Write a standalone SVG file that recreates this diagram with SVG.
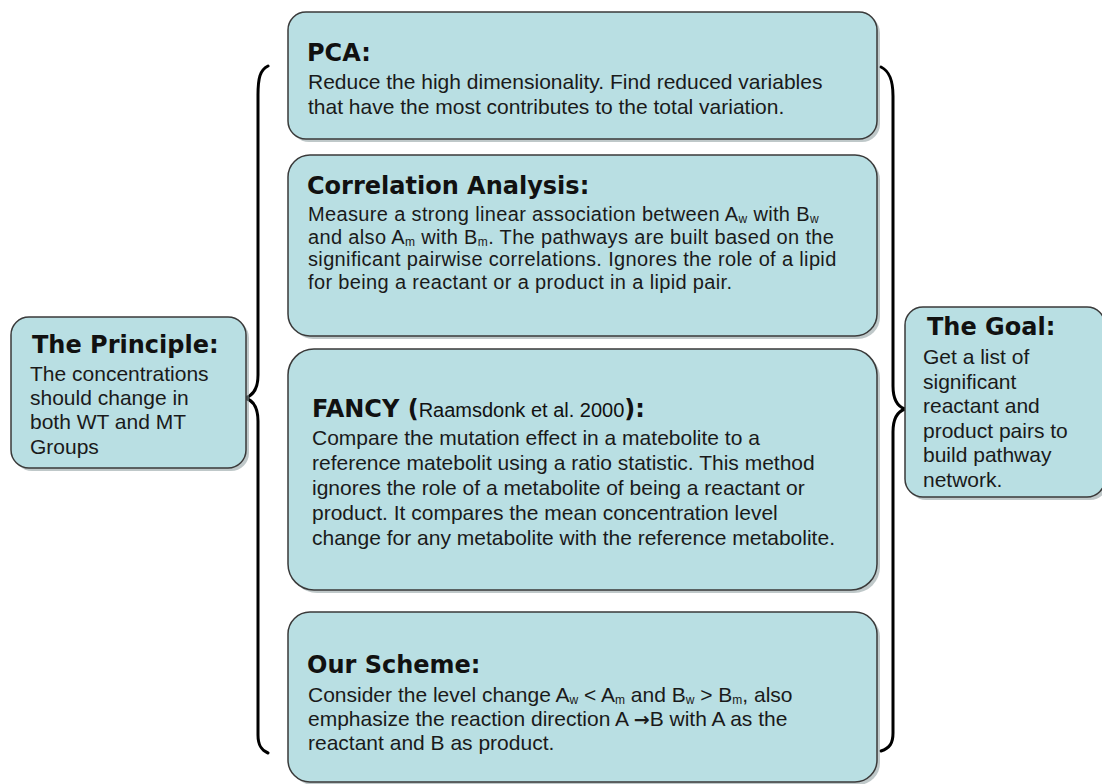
<svg xmlns="http://www.w3.org/2000/svg" width="1102" height="784" viewBox="0 0 1102 784">
  <style>
    .box { fill: #b9dfe3; stroke: #3a3a3a; stroke-width: 1.5; }
    .shadow { fill: #8a9a9c; opacity: 0.55; }
    .title { font-family: "DejaVu Sans", Verdana, sans-serif; font-weight: bold; font-size: 24px; fill: #111; }
    .body { font-family: "Liberation Sans", Arial, sans-serif; font-size: 21px; fill: #1a1a1a; }
    .tight { font-size: 20px; letter-spacing: 0.35px; }
    .side { font-family: "Liberation Sans", Arial, sans-serif; font-size: 21px; fill: #1a1a1a; }
    .cite { font-family: "Liberation Sans", Arial, sans-serif; font-weight: normal; font-size: 20px; }
    .arrow { font-family: "DejaVu Sans", sans-serif; font-weight: bold; font-size: 19px; }
    .sub { font-size: 12px; }
    .brace { fill: none; stroke: #000; stroke-width: 3; stroke-linecap: round; stroke-linejoin: round; }
  </style>

  <!-- braces grouping the method boxes -->
  <g id="connectors">
    <path class="brace" d="M268,66 C260,70 258,78 258,95 L258,375 C258,390 252,396 245,398 C252,400 258,406 258,421 L258,735 C258,745 261,750 268,753"/>
    <path class="brace" d="M881,67 C889,71 893,79 893,96 L893,386 C893,401 899,407 905,409 C899,411 893,417 893,432 L893,733 C893,743 890,748 881,751"/>
  </g>

  <!-- PCA -->
  <g id="pca">
    <rect class="shadow" x="291" y="15" width="589" height="127" rx="18"/>
    <rect class="box" x="288" y="12" width="589" height="127" rx="18"/>
    <text class="title" x="307" y="61">PCA:</text>
    <text class="body" x="308" y="89">Reduce the high dimensionality. Find reduced variables</text>
    <text class="body" x="308" y="114">that have the most contributes to the total variation.</text>
  </g>

  <!-- Correlation Analysis -->
  <g id="correlation">
    <rect class="shadow" x="291" y="158" width="589" height="181" rx="22"/>
    <rect class="box" x="288" y="155" width="589" height="181" rx="22"/>
    <text class="title" x="307" y="194">Correlation Analysis:</text>
    <text class="body tight" x="308" y="221">Measure a strong linear association between A<tspan class="sub" dy="2">w</tspan><tspan dy="-2"> with B</tspan><tspan class="sub" dy="2">w</tspan></text>
    <text class="body tight" x="308" y="243.5">and also A<tspan class="sub" dy="2">m</tspan><tspan dy="-2"> with B</tspan><tspan class="sub" dy="2">m</tspan><tspan dy="-2">. The pathways are built based on the</tspan></text>
    <text class="body tight" x="308" y="266">significant pairwise correlations. Ignores the role of a lipid</text>
    <text class="body tight" x="308" y="288.5">for being a reactant or a product in a lipid pair.</text>
  </g>

  <!-- FANCY -->
  <g id="fancy">
    <rect class="shadow" x="291" y="352" width="589" height="241" rx="26"/>
    <rect class="box" x="288" y="349" width="589" height="241" rx="26"/>
    <text class="title" x="312" y="417">FANCY (<tspan class="cite">Raamsdonk et al. 2000</tspan>):</text>
    <text class="body" x="312" y="445">Compare the mutation effect in a matebolite to a</text>
    <text class="body" x="312" y="470">reference matebolit using a ratio statistic. This method</text>
    <text class="body" x="312" y="495">ignores the role of a metabolite of being  a reactant or</text>
    <text class="body" x="312" y="520">product. It compares the mean concentration level</text>
    <text class="body" x="312" y="545">change for any metabolite with the reference metabolite.</text>
  </g>

  <!-- Our Scheme -->
  <g id="scheme">
    <rect class="shadow" x="291" y="615" width="589" height="170" rx="22"/>
    <rect class="box" x="288" y="612" width="589" height="170" rx="22"/>
    <text class="title" x="307" y="673">Our Scheme:</text>
    <text class="body" x="308" y="702">Consider the level change A<tspan class="sub" dy="2">w</tspan><tspan dy="-2"> &lt; A</tspan><tspan class="sub" dy="2">m</tspan><tspan dy="-2"> and B</tspan><tspan class="sub" dy="2">w</tspan><tspan dy="-2"> &gt; B</tspan><tspan class="sub" dy="2">m</tspan><tspan dy="-2">, also</tspan></text>
    <text class="body" x="308" y="726">emphasize the reaction direction A <tspan class="arrow">→</tspan>B with A as the</text>
    <text class="body" x="308" y="750">reactant and B as product.</text>
  </g>

  <!-- The Principle -->
  <g id="principle">
    <rect class="shadow" x="14" y="320" width="235" height="151" rx="18"/>
    <rect class="box" x="11" y="317" width="235" height="151" rx="18"/>
    <text class="title" x="32" y="353">The Principle:</text>
    <text class="side" x="30" y="381">The concentrations</text>
    <text class="side" x="30" y="405">should change in</text>
    <text class="side" x="30" y="429">both WT and MT</text>
    <text class="side" x="30" y="454">Groups</text>
  </g>

  <!-- The Goal -->
  <g id="goal">
    <rect class="shadow" x="908" y="310" width="200" height="190" rx="18"/>
    <rect class="box" x="905" y="307" width="200" height="190" rx="18"/>
    <text class="title" x="927" y="335">The Goal:</text>
    <text class="side" x="923" y="364">Get a list of</text>
    <text class="side" x="923" y="389">significant</text>
    <text class="side" x="923" y="413">reactant and</text>
    <text class="side" x="923" y="438">product pairs to</text>
    <text class="side" x="923" y="462">build pathway</text>
    <text class="side" x="923" y="487">network.</text>
  </g>
</svg>
